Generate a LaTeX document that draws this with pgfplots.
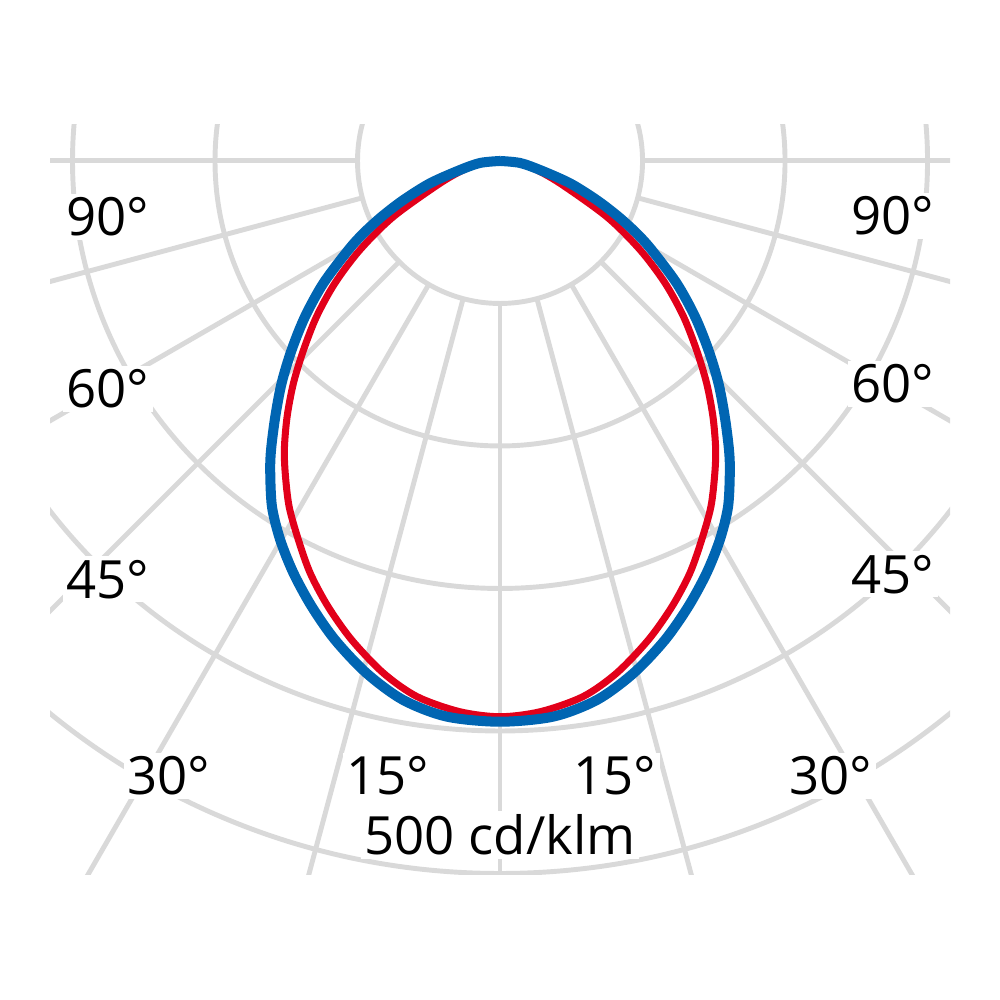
\documentclass[border=0pt]{standalone}
\usepackage{fontspec}
\setmainfont{Open Sans}
\usepackage{pgfplots}
\pgfplotsset{compat=1.18}
\definecolor{gridgray}{RGB}{217,217,217}
\definecolor{lblue}{RGB}{0,101,178}
\definecolor{lred}{RGB}{226,0,26}
\tikzset{
  spoke/.style={gridgray, line width=1.4pt},
  lbl/.style={font=\fontsize{15}{18}\selectfont, anchor=base, fill=white, inner sep=1pt},
}
\begin{document}
\begin{tikzpicture}
\path (0,0) rectangle (10cm,10cm);
\begin{axis}[
    at={(0.5cm,1.25cm)}, anchor=south west,
    scale only axis, width=9cm, height=7.5cm,
    xmin=-315.79, xmax=315.79, ymin=-501.05, ymax=25.26,
    hide axis, clip=true,
]
% circles every 100 cd/klm
\pgfplotsinvokeforeach{100,200,300,400,500,600}{
  \draw[gridgray, line width=1.4pt] (axis cs:0,0) circle[radius=#1];
}
% spokes every 15 degrees, starting at the inner circle
\pgfplotsinvokeforeach{-180,-165,-150,-135,-120,-105,-90,-75,-60,-45,-30,-15,0}{
  \addplot[spoke, data cs=polar, forget plot] coordinates {(#1,100) (#1,900)};
}

% C90/C270 plane (angle, cd/klm)
\addplot[lred, line width=2pt, smooth, line join=round, data cs=polar] coordinates {
(-180,0) (-174,12) (-167,25) (-159.6,44.9) (-152.4,84.5) (-147.6,116.4)
(-143.5,144.1) (-139.7,168.8) (-136.1,191.4) (-132.9,213.0) (-129.8,233.4)
(-126.9,252.0) (-124.5,266.1) (-121.4,284.1) (-118.0,301.3) (-114.7,318.6)
(-111.1,335.2) (-107.2,351.9) (-102.8,368.7) (-98.8,380.4) (-94.2,387.5) (-90,390)
(-85.8,387.5) (-81.2,380.4) (-77.2,368.7) (-72.8,351.9) (-68.9,335.2)
(-65.3,318.6) (-62.0,301.3) (-58.6,284.1) (-55.5,266.1) (-53.1,252.0)
(-50.2,233.4) (-47.1,213.0) (-43.9,191.4) (-40.3,168.8) (-36.5,144.1)
(-32.4,116.4) (-27.6,84.5) (-20.4,44.9) (-13,25) (-6,12) (0,0)
};

% C0/C180 plane (angle, cd/klm)
\addplot[lblue, line width=2.85pt, smooth, line join=round, data cs=polar] coordinates {
(-180,0) (-174.3,14.1) (-167.3,28.8) (-162.3,51.6) (-158.0,73.2) (-154.8,91.8)
(-152.1,108.5) (-149.6,123.4) (-145.3,150.8) (-141.4,175.1) (-137.8,197.4)
(-134.5,218.7) (-131.3,239.0) (-128.5,258.0) (-126.6,270.5) (-123.4,290.7)
(-120.1,307.5) (-116.6,323.6) (-112.9,339.5) (-109.0,355.5) (-104.6,371.5)
(-100.2,384.3) (-95.5,391.7) (-90,393.5)
(-84.5,391.7) (-79.8,384.3) (-75.4,371.5) (-71.0,355.5) (-67.1,339.5)
(-63.4,323.6) (-59.9,307.5) (-56.6,290.7) (-53.4,270.5) (-51.5,258.0)
(-48.7,239.0) (-45.5,218.7) (-42.2,197.4) (-38.6,175.1) (-34.7,150.8)
(-30.4,123.4) (-27.9,108.5) (-25.2,91.8) (-22.0,73.2) (-17.7,51.6)
(-12.7,28.8) (-5.7,14.1) (0,0)
};

\node[lbl] at (axis cs:-275.1,-52.6) {90°};
\node[lbl] at (axis cs:275.8,-51.9) {90°};
\node[lbl] at (axis cs:-275.1,-173.3) {60°};
\node[lbl] at (axis cs:275.8,-169.8) {60°};
\node[lbl] at (axis cs:-275.1,-306.7) {45°};
\node[lbl] at (axis cs:275.8,-303.2) {45°};
\node[lbl] at (axis cs:-232.3,-444.9) {30°};
\node[lbl] at (axis cs:232.3,-444.9) {30°};
\node[lbl] at (axis cs:-78.6,-444.9) {15°};
\node[lbl] at (axis cs:80.7,-444.9) {15°};
\node[lbl] at (axis cs:0,-487) {500 cd/klm};
\end{axis}
\end{tikzpicture}
\end{document}
